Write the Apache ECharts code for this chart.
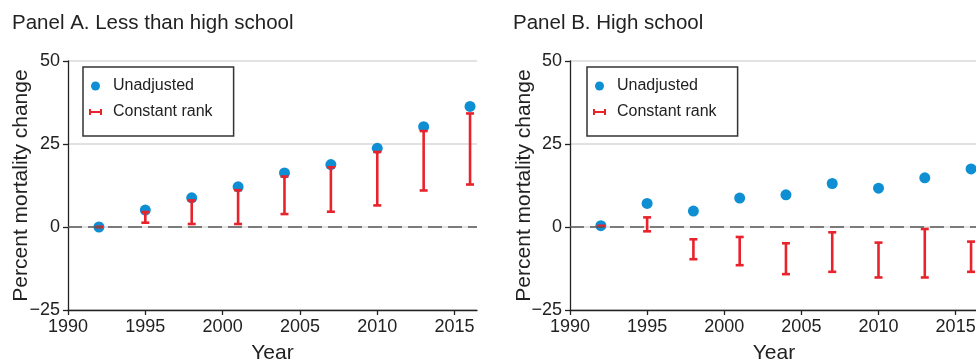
<!DOCTYPE html>
<html>
<head>
<meta charset="utf-8">
<script src="https://cdn.jsdelivr.net/npm/echarts@6/dist/echarts.min.js"></script>
<style>html,body{margin:0;padding:0;background:#fff;}#c{width:976px;height:362px;}</style>
</head>
<body>
<div id="c"></div>
<script>
const years = [1992, 1995, 1998, 2001, 2004, 2007, 2010, 2013, 2016];
const xTicks = [1990, 1995, 2000, 2005, 2010, 2015];
const yTicks = [-25, 0, 25, 50];
const aUnadj = [0, 5.1, 8.8, 12.1, 16.3, 18.8, 23.7, 30.2, 36.3];
const aRankLow = [0, 1.3, 0.9, 0.9, 3.9, 4.6, 6.5, 11.0, 12.8];
const aRankHigh = [0, 4.5, 8.0, 11.1, 15.2, 18.0, 22.6, 28.9, 34.2];
const bUnadj = [0.4, 7.1, 4.8, 8.7, 9.7, 13.1, 11.7, 14.8, 17.5];
const bRankLow = [0.3, -1.3, -9.7, -11.5, -14.2, -13.5, -15.2, -15.2, -13.5];
const bRankHigh = [0.3, 2.9, -3.7, -3.0, -4.9, -1.6, -4.7, -0.6, -4.4];
const titles = ['Panel A. Less than high school', 'Panel B. High school'];

const FONT = '"Liberation Sans", Arial, Helvetica, sans-serif';
const TXT = '#222';
const BLUE = '#0e8fd3';
const RED = '#e8232b';

const chart = echarts.init(document.getElementById('c'), null, {renderer: 'canvas'});

function errRender(params, api) {
  const p1 = api.coord([api.value(0), api.value(1)]);
  const p2 = api.coord([api.value(0), api.value(2)]);
  const x = p1[0], w = 4;
  const st = {stroke: RED, lineWidth: 2.6};
  return {type: 'group', children: [
    {type: 'line', shape: {x1: x, y1: p1[1], x2: x, y2: p2[1]}, style: st},
    {type: 'line', shape: {x1: x - w, y1: p1[1], x2: x + w, y2: p1[1]}, style: st},
    {type: 'line', shape: {x1: x - w, y1: p2[1], x2: x + w, y2: p2[1]}, style: st}
  ]};
}

const grids = [
  {left: 68, right: 499, top: 61, bottom: 52, containLabel: false, outerBoundsMode: 'none'},
  {left: 570, right: -2, top: 61, bottom: 52, containLabel: false, outerBoundsMode: 'none'}
];
const panels = [
  {unadj: aUnadj, low: aRankLow, high: aRankHigh, nameGap: 36, legendLeft: 83},
  {unadj: bUnadj, low: bRankLow, high: bRankHigh, nameGap: 35, legendLeft: 587}
];

const xAxes = [], yAxes = [], series = [], legends = [], titleOpts = [];
panels.forEach((p, i) => {
  xAxes.push({
    type: 'value', gridIndex: i, min: 1990, max: 2016.45,
    name: 'Year', nameLocation: 'middle', nameGap: 33, nameMoveOverlap: false,
    nameTextStyle: {fontFamily: FONT, fontSize: 21, color: TXT},
    axisLine: {show: true, onZero: false, lineStyle: {color: TXT, width: 1.3}},
    axisTick: {show: true, length: 5, customValues: xTicks, lineStyle: {color: TXT, width: 1.3}},
    axisLabel: {customValues: xTicks, margin: 8, fontFamily: FONT, fontSize: 18, color: TXT,
      formatter: v => String(v)},
    splitLine: {show: false}
  });
  yAxes.push({
    type: 'value', gridIndex: i, min: -25, max: 50, interval: 25,
    name: 'Percent mortality change', nameLocation: 'middle', nameGap: p.nameGap, nameMoveOverlap: false,
    nameTextStyle: {fontFamily: FONT, fontSize: 21, color: TXT},
    axisLine: {show: true, lineStyle: {color: TXT, width: 1.3}},
    axisTick: {show: true, length: 5, lineStyle: {color: TXT, width: 1.3}},
    axisLabel: {margin: 8, fontFamily: FONT, fontSize: 18, color: TXT,
      formatter: v => v < 0 ? '\u2212' + Math.abs(v) : String(v)},
    splitLine: {show: true, lineStyle: {color: '#d8d8d8', width: 1.5}}
  });
  series.push({
    type: 'line', name: 'zero' + i, xAxisIndex: i, yAxisIndex: i, data: [], z: 1,
    silent: true,
    markLine: {silent: true, symbol: 'none', label: {show: false}, animation: false,
      lineStyle: {color: '#5a5a5a', type: [14, 6], width: 1.5},
      data: [{yAxis: 0}]}
  });
  series.push({
    type: 'scatter', name: 'Unadjusted', xAxisIndex: i, yAxisIndex: i, z: 3,
    symbolSize: 11, itemStyle: {color: BLUE, opacity: 1},
    data: years.map((y, k) => [y, p.unadj[k]])
  });
  series.push({
    type: 'custom', name: 'Constant rank', xAxisIndex: i, yAxisIndex: i, z: 4,
    itemStyle: {color: RED},
    renderItem: errRender, encode: {x: 0, y: [1, 2]},
    data: years.map((y, k) => [y, p.low[k], p.high[k]])
  });
  legends.push({
    left: p.legendLeft, top: 67, orient: 'vertical',
    borderColor: '#333', borderWidth: 1.5,
    padding: [10, 21, 15, 6], itemGap: 8, itemWidth: 13, itemHeight: 9,
    selectedMode: false,
    textStyle: {fontFamily: FONT, fontSize: 16, color: TXT, padding: [0, 0, 0, 6], lineHeight: 18},
    data: [
      {name: 'Unadjusted', icon: 'circle', itemStyle: {color: BLUE}},
      {name: 'Constant rank', icon: 'path://M0,0h2v2h9v-2h2v6h-2v-2h-9v2h-2z', itemStyle: {color: RED}}
    ]
  });
  titleOpts.push({
    text: titles[i], left: i === 0 ? 7 : 508, top: 8,
    textStyle: {fontFamily: FONT, fontSize: 20.5, fontWeight: 'normal', color: TXT}
  });
});

chart.setOption({
  animation: false,
  backgroundColor: '#fff',
  title: titleOpts,
  grid: grids,
  xAxis: xAxes,
  yAxis: yAxes,
  legend: legends,
  series: series
});
</script>
</body>
</html>
